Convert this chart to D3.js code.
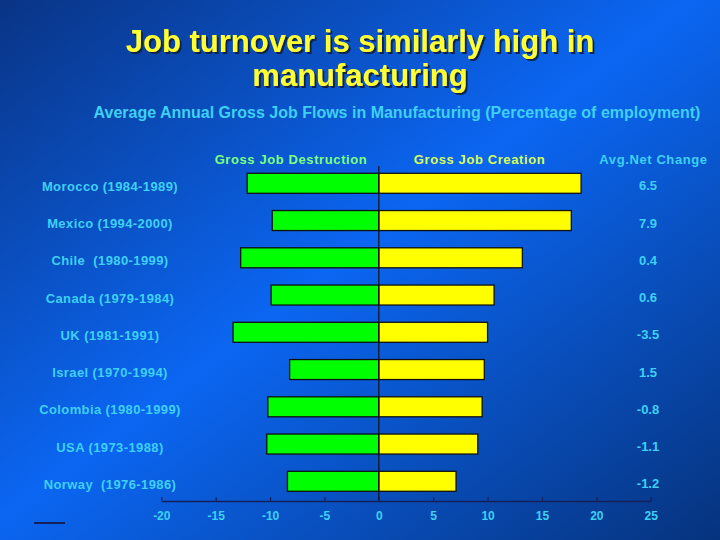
<!DOCTYPE html>
<html>
<head>
<meta charset="utf-8">
<script src="https://cdn.jsdelivr.net/npm/d3@7"></script>
<style>
  html, body { margin: 0; padding: 0; background: #0a4fc0; }
  svg { display: block; }
  text { font-family: "Liberation Sans", Arial, sans-serif; }
</style>
</head>
<body>
<svg id="chart" width="720" height="540"></svg>
<script>
const categories = ["Morocco (1984-1989)", "Mexico (1994-2000)", "Chile  (1980-1999)", "Canada (1979-1984)", "UK (1981-1991)", "Israel (1970-1994)", "Colombia (1980-1999)", "USA (1973-1988)", "Norway  (1976-1986)"];
const destruction = [-12.1, -9.8, -12.7, -9.9, -13.4, -8.2, -10.2, -10.3, -8.4];
const creation = [18.6, 17.7, 13.2, 10.6, 10.0, 9.7, 9.5, 9.1, 7.1];
const netChange = ["6.5", "7.9", "0.4", "0.6", "-3.5", "1.5", "-0.8", "-1.1", "-1.2"];
const xTicks = [-20, -15, -10, -5, 0, 5, 10, 15, 20, 25];
const titleLines = ["Job turnover is similarly high in", "manufacturing"];
const subtitle = "Average Annual Gross Job Flows in Manufacturing (Percentage of employment)";
const headers = ["Gross Job Destruction", "Gross Job Creation", "Avg.Net Change"];

const svg = d3.select("#chart");
const defs = svg.append("defs");
const grad = defs.append("linearGradient").attr("id", "bg")
  .attr("x1", "0").attr("y1", "0").attr("x2", "1").attr("y2", "1");
grad.append("stop").attr("offset", "0%").attr("stop-color", "#093485");
grad.append("stop").attr("offset", "48%").attr("stop-color", "#0b66f2");
grad.append("stop").attr("offset", "100%").attr("stop-color", "#06337d");
const sh = defs.append("filter").attr("id", "shadow").attr("x", "-10%").attr("y", "-20%").attr("width", "130%").attr("height", "160%");
sh.append("feDropShadow").attr("dx", 2).attr("dy", 2).attr("stdDeviation", 0.6).attr("flood-color", "#0a1a40").attr("flood-opacity", 0.9);

svg.append("rect").attr("width", 720).attr("height", 540).attr("fill", "url(#bg)");

// Title
svg.selectAll("text.title").data(titleLines).join("text")
  .attr("class", "title")
  .attr("x", 360).attr("y", (d, i) => 52 + i * 34)
  .attr("text-anchor", "middle")
  .attr("font-size", 31).attr("font-weight", "bold")
  .attr("fill", "#ffff33")
  .attr("filter", "url(#shadow)")
  .text(d => d);

svg.append("text")
  .attr("x", 397).attr("y", 118)
  .attr("text-anchor", "middle")
  .attr("font-size", 16).attr("font-weight", "bold")
  .attr("fill", "#3fd0f5")
  .text(subtitle);

// Scales
const x = d3.scaleLinear().domain([-20, 25]).range([161.3, 650.7]);
const y = d3.scalePoint().domain(categories).range([183.3, 481.3]);
const barH = 20;

// Column headers
const headerX = [291, 479.5, 653.5];
const headerColor = ["#7dff7d", "#d8ff55", "#3fd0f5"];
svg.selectAll("text.hdr").data(headers).join("text")
  .attr("class", "hdr")
  .attr("x", (d, i) => headerX[i]).attr("y", 164)
  .attr("text-anchor", "middle")
  .attr("font-size", 13).attr("font-weight", "bold")
  .attr("letter-spacing", 0.6)
  .attr("fill", (d, i) => headerColor[i])
  .text(d => d);

// Bars
const rows = categories.map((c, i) => ({ c, d: destruction[i], cr: creation[i], n: netChange[i] }));

svg.selectAll("rect.destr").data(rows).join("rect")
  .attr("class", "destr")
  .attr("x", d => x(d.d)).attr("y", d => y(d.c) - barH / 2)
  .attr("width", d => x(0) - x(d.d)).attr("height", barH)
  .attr("fill", "#00ff00").attr("stroke", "#111").attr("stroke-width", 1.3);

svg.selectAll("rect.creat").data(rows).join("rect")
  .attr("class", "creat")
  .attr("x", x(0)).attr("y", d => y(d.c) - barH / 2)
  .attr("width", d => x(d.cr) - x(0)).attr("height", barH)
  .attr("fill", "#ffff00").attr("stroke", "#111").attr("stroke-width", 1.3);

// zero line
svg.append("line")
  .attr("x1", x(0)).attr("x2", x(0)).attr("y1", 166).attr("y2", 501)
  .attr("stroke", "#111").attr("stroke-width", 1.2);

// Country labels
svg.selectAll("text.cat").data(rows).join("text")
  .attr("class", "cat")
  .attr("x", 110).attr("y", d => y(d.c) + 7.5)
  .attr("text-anchor", "middle")
  .attr("font-size", 13).attr("font-weight", "bold")
  .attr("letter-spacing", 0.4)
  .attr("fill", "#3fd0f5")
  .style("white-space", "pre")
  .text(d => d.c);

// Net change values
svg.selectAll("text.net").data(rows).join("text")
  .attr("class", "net")
  .attr("x", 648).attr("y", d => y(d.c) + 7)
  .attr("text-anchor", "middle")
  .attr("font-size", 13).attr("font-weight", "bold")
  .attr("fill", "#3fd0f5")
  .text(d => d.n);

// X axis
const axis = d3.axisBottom(x).tickValues(xTicks).tickSizeInner(-4).tickSizeOuter(0).tickPadding(10).tickFormat(d => String(d));
const gAxis = svg.append("g").attr("transform", "translate(0,501)").call(axis);
gAxis.select(".domain").attr("stroke", "#14205a").attr("stroke-width", 1.5);
gAxis.selectAll(".tick line").attr("stroke", "#14205a").attr("stroke-width", 1.2);
gAxis.selectAll(".tick text")
  .attr("font-size", 12).attr("font-weight", "bold")
  .attr("font-family", "'Liberation Sans', Arial, sans-serif")
  .attr("fill", "#3fd0f5");

// small decorative line bottom-left
svg.append("line")
  .attr("x1", 34).attr("x2", 65).attr("y1", 523).attr("y2", 523)
  .attr("stroke", "#14205a").attr("stroke-width", 2);
</script>
</body>
</html>
